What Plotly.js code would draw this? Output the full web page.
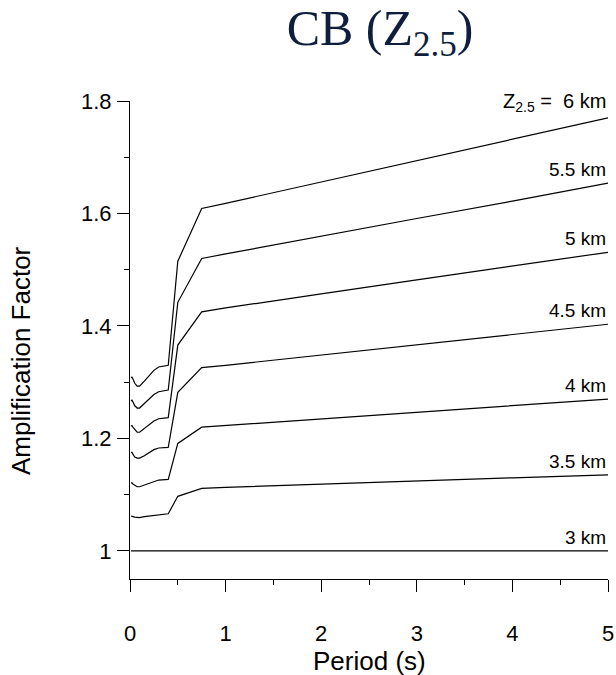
<!DOCTYPE html>
<html>
<head>
<meta charset="utf-8">
<script src="https://cdn.plot.ly/plotly-3.0.1.min.js"></script>
<style>html,body{margin:0;padding:0;background:#fff;}#chart{width:616px;height:675px;}</style>
</head>
<body>
<div id="chart"></div>
<script>
const periods = [0.01,0.02,0.03,0.05,0.075,0.1,0.15,0.2,0.25,0.3,0.4,0.5,0.75,1,1.5,2,3,4,5];
const amp_3km   = [1,1,1,1,1,1,1,1,1,1,1,1,1,1,1,1,1,1,1];
const amp_3_5km = [1.062,1.062,1.061,1.060,1.059,1.059,1.061,1.062,1.064,1.065,1.066,1.097,1.111,1.113,1.116,1.119,1.125,1.130,1.135];
const amp_4km   = [1.121,1.121,1.119,1.116,1.114,1.114,1.117,1.121,1.124,1.126,1.127,1.191,1.220,1.223,1.229,1.235,1.247,1.259,1.270];
const amp_4_5km = [1.175,1.175,1.172,1.167,1.165,1.165,1.169,1.175,1.180,1.183,1.184,1.282,1.326,1.330,1.339,1.349,1.367,1.385,1.403];
const amp_5km   = [1.222,1.223,1.220,1.215,1.211,1.211,1.218,1.225,1.231,1.235,1.237,1.366,1.425,1.432,1.444,1.457,1.482,1.506,1.531];
const amp_5_5km = [1.267,1.268,1.265,1.258,1.254,1.254,1.262,1.270,1.278,1.283,1.286,1.442,1.520,1.528,1.544,1.560,1.591,1.622,1.654];
const amp_6km   = [1.308,1.309,1.306,1.298,1.293,1.293,1.302,1.312,1.321,1.327,1.330,1.515,1.609,1.618,1.637,1.656,1.694,1.732,1.770];
const seriesNames = ["3 km","3.5 km","4 km","4.5 km","5 km","5.5 km","6 km"];
const seriesLabels = ["3 km","3.5 km","4 km","4.5 km","5 km","5.5 km","Z<sub>2.5</sub>&nbsp;=&nbsp; 6 km"];
const seriesValues = [amp_3km, amp_3_5km, amp_4km, amp_4_5km, amp_5km, amp_5_5km, amp_6km];

const FONT = "Liberation Sans, Arial, sans-serif";
const traces = seriesValues.map((vals, i) => ({
  x: periods, y: vals, type: 'scatter', mode: 'lines', name: seriesNames[i],
  line: {color: '#000', width: 1.2}, showlegend: false, hoverinfo: 'x+y+name'
}));

const annotations = seriesValues.map((vals, i) => ({
  x: periods[periods.length-1], y: vals[vals.length-1], xref: 'x', yref: 'y',
  text: seriesLabels[i], showarrow: false, xanchor: 'right', yanchor: 'bottom',
  yshift: 1, font: {family: FONT, size: (i === seriesValues.length-1 ? 20 : 19), color: '#000'}
}));
annotations.push({
  text: 'Amplification Factor', xref: 'paper', yref: 'paper', x: -0.228, y: 0.456,
  textangle: -90, showarrow: false, xanchor: 'center', yanchor: 'middle',
  font: {family: FONT, size: 26, color: '#000'}
});
annotations.push({
  text: 'Period (s)', xref: 'paper', yref: 'paper', x: 0.5, y: -0.172,
  showarrow: false, xanchor: 'center', yanchor: 'middle',
  font: {family: FONT, size: 26, color: '#000'}
});

const layout = {
  width: 616, height: 675,
  margin: {l: 130, r: 8, t: 101, b: 96},
  paper_bgcolor: '#fff', plot_bgcolor: '#fff',
  title: {text: 'CB (Z<sub>2.5</sub>)', xref: 'container', x: 0.617, xanchor: 'center',
          yref: 'container', y: 0.985, yanchor: 'top',
          font: {family: 'Liberation Serif, Times New Roman, serif', size: 50, color: '#0f1e3c'}},
  xaxis: {
    range: [0, 5], tickmode: 'linear', tick0: 0, dtick: 1,
    showgrid: false, zeroline: false, showline: true, linecolor: '#000', linewidth: 1,
    ticks: 'outside', ticklen: 12, tickcolor: '#000', tickwidth: 1,
    minor: {dtick: 0.5, ticks: 'outside', ticklen: 5, tickcolor: '#000', showgrid: false},
    tickfont: {family: FONT, size: 22, color: '#000'},
    ticklabelstandoff: 23
  },
  yaxis: {
    range: [0.95, 1.8], tickmode: 'linear', tick0: 1, dtick: 0.2,
    showgrid: false, zeroline: false, showline: true, linecolor: '#000', linewidth: 1,
    ticks: 'outside', ticklen: 12, tickcolor: '#000', tickwidth: 1,
    minor: {dtick: 0.1, ticks: 'outside', ticklen: 5, tickcolor: '#000', showgrid: false},
    tickfont: {family: FONT, size: 22, color: '#000'},
    ticklabelstandoff: 1
  },
  annotations: annotations,
  showlegend: false
};

Plotly.newPlot('chart', traces, layout, {displayModeBar: false, staticPlot: true});
</script>
</body>
</html>
